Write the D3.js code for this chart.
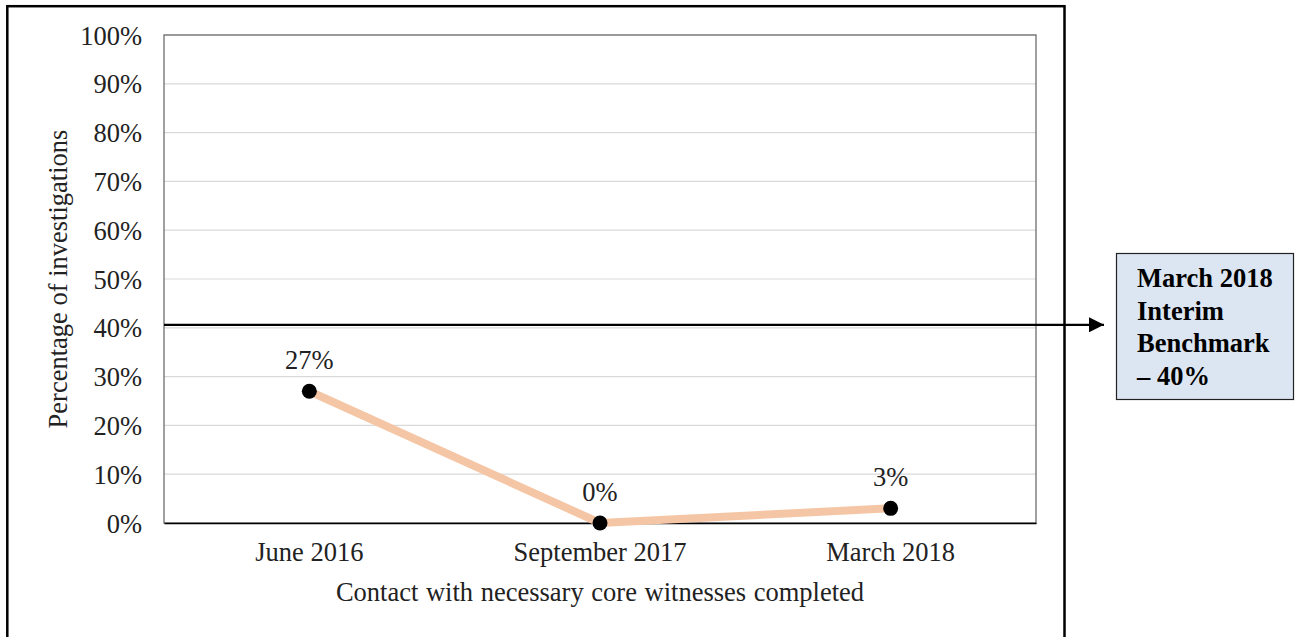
<!DOCTYPE html>
<html><head><meta charset="utf-8">
<script src="https://cdn.jsdelivr.net/npm/d3@7"></script>
<style>
html,body{margin:0;padding:0;background:#fff;}
svg{display:block;font-family:"Liberation Serif","Times New Roman",serif;}
</style></head>
<body>
<svg id="chart" width="1298" height="637"></svg>
<script>
const categories = ["June 2016", "September 2017", "March 2018"];
const values = [0.27, 0.00, 0.03];
const valueLabels = ["27%", "0%", "3%"];
const yTicks = [0, 0.1, 0.2, 0.3, 0.4, 0.5, 0.6, 0.7, 0.8, 0.9, 1.0];
const benchmark = 0.40;
const benchmarkText = ["March 2018", "Interim", "Benchmark", "\u2013 40%"];
const xTitle = "Contact with necessary core witnesses completed";
const yTitle = "Percentage of investigations";

const FS = 26.5;
const svg = d3.select("#chart");
const L = 164, R = 1036, T = 35, B = 523;

const x = d3.scaleBand().domain(categories).range([L, R]);
const y = d3.scaleLinear().domain([0, 1]).range([B, T]);

// outer frame
svg.append("rect").attr("x", 7.3).attr("y", 6.2).attr("width", 1057.2).attr("height", 700)
  .attr("fill", "none").attr("stroke", "#000").attr("stroke-width", 2.5);

// gridlines
svg.append("g").selectAll("line").data(yTicks.filter(d => d > 0)).join("line")
  .attr("x1", L).attr("x2", R).attr("y1", d => y(d)).attr("y2", d => y(d))
  .attr("stroke", "#d9d9d9").attr("stroke-width", 1.2);

// plot border
svg.append("rect").attr("x", L).attr("y", T).attr("width", R - L).attr("height", B - T)
  .attr("fill", "none").attr("stroke", "#6e6e6e").attr("stroke-width", 1.3);

// y axis labels
const yAxis = d3.axisLeft(y).tickValues(yTicks).tickFormat(d3.format(".0%")).tickSize(0).tickPadding(22);
const gy = svg.append("g").attr("transform", `translate(${L},0)`).call(yAxis);
gy.select(".domain").remove();
gy.selectAll("text").attr("font-size", FS).attr("fill", "#222").attr("font-family", "Liberation Serif")
  .attr("dy", "0.34em");

// x axis
const xAxis = d3.axisBottom(x).tickSize(0).tickPadding(19);
const gx = svg.append("g").attr("transform", `translate(0,${B})`).call(xAxis);
gx.select(".domain").attr("stroke", "#000").attr("stroke-width", 1.5);
gx.selectAll("text").attr("font-size", FS).attr("fill", "#222").attr("font-family", "Liberation Serif");

// axis titles
svg.append("text").attr("x", (L + R) / 2).attr("y", 601).attr("text-anchor", "middle")
  .attr("font-size", FS).attr("fill", "#222").attr("word-spacing", 1).text(xTitle);
svg.append("text").attr("transform", `translate(67,${(T + B) / 2}) rotate(-90)`).attr("text-anchor", "middle")
  .attr("font-size", FS).attr("fill", "#222").text(yTitle);

// line
const line = d3.line().x((d, i) => x(categories[i]) + x.bandwidth() / 2).y(d => y(d));
svg.append("path").datum(values).attr("d", line).attr("fill", "none")
  .attr("stroke", "#f5c6a5").attr("stroke-width", 8).attr("stroke-linejoin", "round");

svg.append("g").selectAll("circle").data(values).join("circle")
  .attr("cx", (d, i) => x(categories[i]) + x.bandwidth() / 2).attr("cy", d => y(d)).attr("r", 7.5)
  .attr("fill", "#000");

svg.append("g").selectAll("text").data(values).join("text")
  .attr("x", (d, i) => x(categories[i]) + x.bandwidth() / 2).attr("y", d => y(d) - 22)
  .attr("text-anchor", "middle").attr("font-size", FS).attr("fill", "#222")
  .text((d, i) => valueLabels[i]);

// benchmark line + arrow
const by = y(benchmark) - 3;
svg.append("defs").append("marker").attr("id", "arr").attr("viewBox", "0 0 10 10")
  .attr("refX", 10).attr("refY", 5).attr("markerWidth", 15).attr("markerHeight", 15)
  .attr("markerUnits", "userSpaceOnUse").attr("orient", "auto")
  .append("path").attr("d", "M0,0 L10,5 L0,10 Z").attr("fill", "#000");
svg.append("line").attr("x1", L).attr("x2", 1104).attr("y1", by).attr("y2", by)
  .attr("stroke", "#000").attr("stroke-width", 2.2).attr("marker-end", "url(#arr)");

// callout box
svg.append("rect").attr("x", 1116.5).attr("y", 253.5).attr("width", 177).attr("height", 146)
  .attr("fill", "#dce6f2").attr("stroke", "#222").attr("stroke-width", 1.2);
svg.append("g").selectAll("text").data(benchmarkText).join("text")
  .attr("x", 1137).attr("y", (d, i) => 287 + i * 32.7)
  .attr("font-size", 26.5).attr("font-weight", "bold").attr("fill", "#000").text(d => d);
</script>
</body></html>
